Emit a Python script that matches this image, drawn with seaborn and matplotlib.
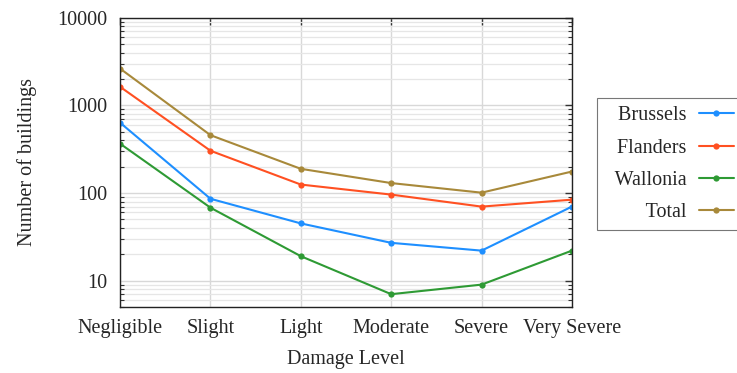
import matplotlib
matplotlib.use("Agg")
import matplotlib.pyplot as plt
import matplotlib.ticker as mticker
import seaborn as sns
import pandas as pd

levels = ["Negligible", "Slight", "Light", "Moderate", "Severe", "Very Severe"]
brussels = [635, 86, 45, 27, 22, 70]
flanders = [1633, 304, 125, 96, 70, 84]
wallonia = [366, 68, 19, 7, 9, 22]
total = [2634, 458, 189, 130, 101, 176]

regions = ["Brussels", "Flanders", "Wallonia", "Total"]
colors = ["#1e8fff", "#ff5022", "#2e9a34", "#a8893a"]

df = pd.DataFrame({
    "level": levels * 4,
    "x": list(range(len(levels))) * 4,
    "count": brussels + flanders + wallonia + total,
    "region": [r for r in regions for _ in levels],
})

sns.set_style("white")
plt.rcParams["font.family"] = ["Liberation Serif", "DejaVu Serif"]

fig = plt.figure(figsize=(7.37, 3.73), dpi=100)
ax = fig.add_axes([0.163, 0.177, 0.613, 0.775])

sns.lineplot(data=df, x="x", y="count", hue="region", palette=colors,
             marker="o", markersize=4.5, markeredgewidth=0, linewidth=1.5,
             ax=ax)

ax.set_yscale("log")
ax.set_ylim(5, 10000)
ax.set_xlim(0, len(levels) - 1)
ax.set_xticks(range(len(levels)))
ax.set_xticklabels(levels)
ax.yaxis.set_major_locator(mticker.FixedLocator([10, 100, 1000, 10000]))
ax.yaxis.set_major_formatter(mticker.FixedFormatter(["10", "100", "1000", "10000"]))
ax.yaxis.set_minor_locator(mticker.LogLocator(base=10, subs=range(2, 10)))
ax.yaxis.set_minor_formatter(mticker.NullFormatter())

ax.grid(True, which="major", axis="both", color="#d8d8d8", linewidth=1.0)
ax.grid(True, which="minor", axis="y", color="#e6e6e6", linewidth=0.9)
ax.set_axisbelow(True)

ax.tick_params(axis="both", which="major", direction="in", length=5, width=1,
               top=True, right=True, labelsize=14.5, pad=9, color="#333333")
ax.tick_params(axis="y", which="minor", direction="in", length=3, width=0.8,
               left=True, right=True, color="#333333")
for s in ax.spines.values():
    s.set_color("#222222")
    s.set_linewidth(1.0)

ax.set_xlabel("Damage Level", fontsize=14.5, labelpad=8)
ax.set_ylabel("Number of buildings", fontsize=14.5, labelpad=15)

# legend: text on the left, line on the right; box runs off the right edge
handles, labels = ax.get_legend_handles_labels()
labels = ["  " + l for l in labels]
leg = fig.legend(handles, labels, loc="upper left",
                 bbox_to_anchor=(0.81, 0.737), markerfirst=False,
                 fontsize=14.5, frameon=True, fancybox=False,
                 edgecolor="#555555", handlelength=1.75, borderpad=0.4,
                 borderaxespad=0, labelspacing=0.66, handletextpad=0.6)
leg.get_frame().set_linewidth(0.8)
for t in leg.get_texts():
    t.set_ha("right")
leg._legend_box.align = "right"
if ax.get_legend():
    ax.get_legend().remove()

fig.savefig("out.png", dpi=100)
